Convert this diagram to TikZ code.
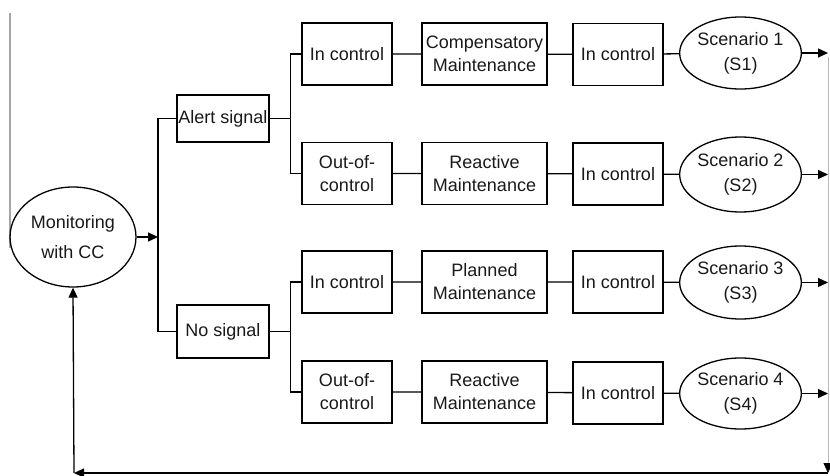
\documentclass[tikz,border=0pt]{standalone}
\usepackage{fontspec}
\setmainfont{Liberation Sans}
\usetikzlibrary{shapes.geometric,arrows.meta,calc}
\begin{document}
\begin{tikzpicture}[x=1pt,y=-1pt,
  line width=1.3pt,
  every node/.style={font=\fontsize{18}{23}\selectfont, align=center, inner sep=0pt, text=black!90},
  box/.style={draw, rectangle, minimum width=90pt, minimum height=62pt},
  wbox/.style={draw, rectangle, minimum width=125pt, minimum height=62pt},
  oval/.style={draw, ellipse, minimum width=121pt, minimum height=73pt, font=\fontsize{18}{25}\selectfont},
  arr/.style={-{Triangle[length=10pt,width=9pt]}},
  garr/.style={gray!55, line width=0.8pt, -{Triangle[length=10pt,width=9pt,color=black,fill=black]}}
]
\useasboundingbox (0,0) rectangle (830,476);
% stray left edge line
\draw[gray!70, line width=1.5pt] (10,13) -- (10,248);

% nodes
\node[draw, ellipse, minimum width=126pt, minimum height=100pt, font=\fontsize{18}{30}\selectfont] (mon) at (73,237) {Monitoring\\with CC};
\node[draw, rectangle, minimum width=92pt, minimum height=47pt] (alert) at (223,118.5) {Alert signal};
\node[draw, rectangle, minimum width=92pt, minimum height=53pt] (nosig) at (223,331.5) {No signal};

\node[box] (ic1) at (347,54) {In control};
\node[box] (oc1) at (347,173.5) {Out-of-\\control};
\node[wbox] (cm) at (484.5,54) {Compensatory\\Maintenance};
\node[wbox] (rm1) at (484.5,173.5) {Reactive\\Maintenance};
\node[box] (ic1b) at (618,54.5) {In control};
\node[box] (ic2b) at (618,174) {In control};
\node[oval, minimum height=72pt] (s1) at (740.5,53) {Scenario 1\\(S1)};
\node[oval, minimum height=75pt] (s2) at (740.5,174.5) {Scenario 2\\(S2)};

\node[box] (ic3) at (347,282) {In control};
\node[box] (oc2) at (347,392) {Out-of-\\control};
\node[wbox] (pm) at (484.5,282) {Planned\\Maintenance};
\node[wbox] (rm2) at (484.5,392) {Reactive\\Maintenance};
\node[box] (ic3b) at (618,282) {In control};
\node[box] (ic4b) at (618,393) {In control};
\node[oval] (s3) at (740.5,282.5) {Scenario 3\\(S3)};
\node[oval, minimum height=71pt] (s4) at (740.5,393.5) {Scenario 4\\(S4)};

% coordinates
\coordinate (t) at (158,237);
\path (alert.east) ++(21,0) coordinate (b1);
\path (nosig.east) ++(21,0) coordinate (b2);
\coordinate (r1) at (828,53);
\coordinate (r2) at (828,174.5);
\coordinate (r3) at (828,282.5);
\coordinate (r4) at (828,393.5);
\coordinate (rtop) at (828,57);
\coordinate (rbot) at (828,473);
\coordinate (lbot) at (74,473);

% connectors
\draw[arr] (mon.east) -- (t);
\draw (alert.west) -| (t) |- (nosig.west);
\draw (alert.east) -- (b1);
\draw (nosig.east) -- (b2);
\draw (ic1.west) -| (b1) |- (oc1.west);
\draw (ic3.west) -| (b2) |- (oc2.west);

\draw (ic1) -- (cm) -- (ic1b) -- (s1);
\draw (oc1) -- (rm1) -- (ic2b) -- (s2);
\draw (ic3) -- (pm) -- (ic3b) -- (s3);
\draw (oc2) -- (rm2) -- (ic4b) -- (s4);

\draw[arr] (s1.east) -- (r1);
\draw[arr] (s2.east) -- (r2);
\draw[arr] (s3.east) -- (r3);
\draw[arr] (s4.east) -- (r4);

\draw[garr] (rtop) -- (rbot);
\draw[arr] (rbot) -- (lbot);
\draw[arr] (lbot) -- (mon.south);
\end{tikzpicture}
\end{document}
